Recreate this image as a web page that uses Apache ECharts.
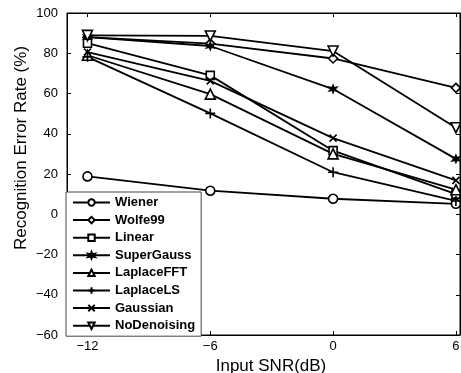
<!DOCTYPE html>
<html><head><meta charset="utf-8">
<script src="https://cdn.jsdelivr.net/npm/echarts@6/dist/echarts.min.js"></script>
<style>html,body{margin:0;padding:0;background:#fff}#c{width:461px;height:373px}</style>
</head><body><div id="c"></div>
<script>
const snr = [-12, -6, 0, 6];
const xTicks = [-12, -6, 0, 6];
const yTicks = [-60, -40, -20, 0, 20, 40, 60, 80, 100];
const seriesNames = ['Wiener','Wolfe99','Linear','SuperGauss','LaplaceFFT','LaplaceLS','Gaussian','NoDenoising'];
const wiener      = [18.8, 11.7, 7.7, 5.2];
const wolfe99     = [88.0, 84.8, 77.4, 62.8];
const linear      = [85.0, 69.0, 31.6, 10.0];
const superGauss  = [88.0, 83.6, 62.2, 27.5];
const laplaceFFT  = [79.0, 59.7, 30.0, 12.2];
const laplaceLS   = [78.2, 50.1, 20.9, 6.6];
const gaussian    = [80.6, 66.3, 37.8, 16.8];
const noDenoising = [88.9, 88.6, 81.1, 43.0];
const values = [wiener, wolfe99, linear, superGauss, laplaceFFT, laplaceLS, gaussian, noDenoising];

const symbols = [
  'circle',
  'path://M5,0L10,5L5,10L0,5Z',
  'rect',
  'path://M5,0L6.2,3.2L9.8,2.5L7.5,5L9.8,7.5L6.2,6.8L5,10L3.8,6.8L0.2,7.5L2.5,5L0.2,2.5L3.8,3.2Z',
  'path://M5,0L10,9L0,9Z',
  'path://M5,0L5,10M0,5L10,5',
  'path://M0,0L10,10M10,0L0,10',
  'path://M0,0L10,0L5,9Z'
];
const sizes = [9, 9, 8, 7, 10, 10, 7, 10];
const fills = ['#fff','#fff','#fff','#000','#fff','#000','#000','#fff'];

const fmt = v => String(v).replace('-', '\u2212');

const series = seriesNames.map((n, i) => ({
  name: n, type: 'line',
  data: snr.map((x, j) => [x, values[i][j]]),
  symbol: symbols[i], symbolSize: sizes[i], showSymbol: true,
  lineStyle: {color: '#000', width: 1.8},
  itemStyle: {color: fills[i], borderColor: '#000', borderWidth: 1.6},
  emphasis: {disabled: true}, animation: false, z: 3
}));

const chart = echarts.init(document.getElementById('c'), null, {renderer: 'canvas'});
chart.setOption({
  animation: false,
  backgroundColor: '#fff',
  grid: {left: 67, top: 13, right: 1, bottom: 38, show: true, borderColor: '#000', borderWidth: 1, backgroundColor: 'transparent', containLabel: false, outerBoundsMode: 'none'},
  legend: {
    data: seriesNames, orient: 'vertical', left: 66, top: 192,
    width: 130, height: 143,
    backgroundColor: '#fff', borderColor: '#444', borderWidth: 1,
    padding: [3, 6, 3, 6], itemGap: 2.6, itemWidth: 37, itemHeight: 8,
    textStyle: {fontFamily: 'Liberation Sans, Arial', fontWeight: 'bold', fontSize: 13, color: '#000', padding: [0,0,0,0], lineHeight: 15},
    inactiveColor: '#000', selectedMode: false, z: 10
  },
  xAxis: [{
    type: 'value', min: -13, max: 6.2, position: 'bottom',
    name: 'Input SNR(dB)', nameLocation: 'middle', nameGap: 22,
    nameTextStyle: {fontFamily: 'Liberation Sans, Arial', fontSize: 17, color: '#000', padding: [0, 0, 0, 15]},
    axisLine: {show: true, onZero: false, lineStyle: {color: '#000'}},
    axisTick: {show: true, inside: true, length: 4, customValues: xTicks, lineStyle: {color: '#000'}},
    axisLabel: {customValues: xTicks, formatter: fmt, fontFamily: 'Liberation Sans, Arial', fontSize: 13, color: '#000', margin: 5},
    splitLine: {show: false}
  }, {
    type: 'value', min: -13, max: 6.2, position: 'top',
    axisLine: {show: true, onZero: false, lineStyle: {color: '#000'}},
    axisTick: {show: true, inside: true, length: 4, customValues: xTicks, lineStyle: {color: '#000'}},
    axisLabel: {show: false}, splitLine: {show: false}
  }],
  yAxis: [{
    type: 'value', min: -60, max: 100, interval: 20, position: 'left',
    name: 'Recognition Error Rate (%)', nameLocation: 'middle', nameGap: 37, nameMoveOverlap: false,
    nameTextStyle: {fontFamily: 'Liberation Sans, Arial', fontSize: 17, color: '#000', padding: [0, 0, 0, 52]},
    axisLine: {show: true, onZero: false, lineStyle: {color: '#000'}},
    axisTick: {show: true, inside: true, length: 4, lineStyle: {color: '#000'}},
    axisLabel: {formatter: fmt, fontFamily: 'Liberation Sans, Arial', fontSize: 13, color: '#000', margin: 9},
    splitLine: {show: false}
  }, {
    type: 'value', min: -60, max: 100, interval: 20, position: 'right',
    axisLine: {show: true, onZero: false, lineStyle: {color: '#000'}},
    axisTick: {show: true, inside: true, length: 4, lineStyle: {color: '#000'}},
    axisLabel: {show: false}, splitLine: {show: false}
  }],
  series: series
});
</script></body></html>
